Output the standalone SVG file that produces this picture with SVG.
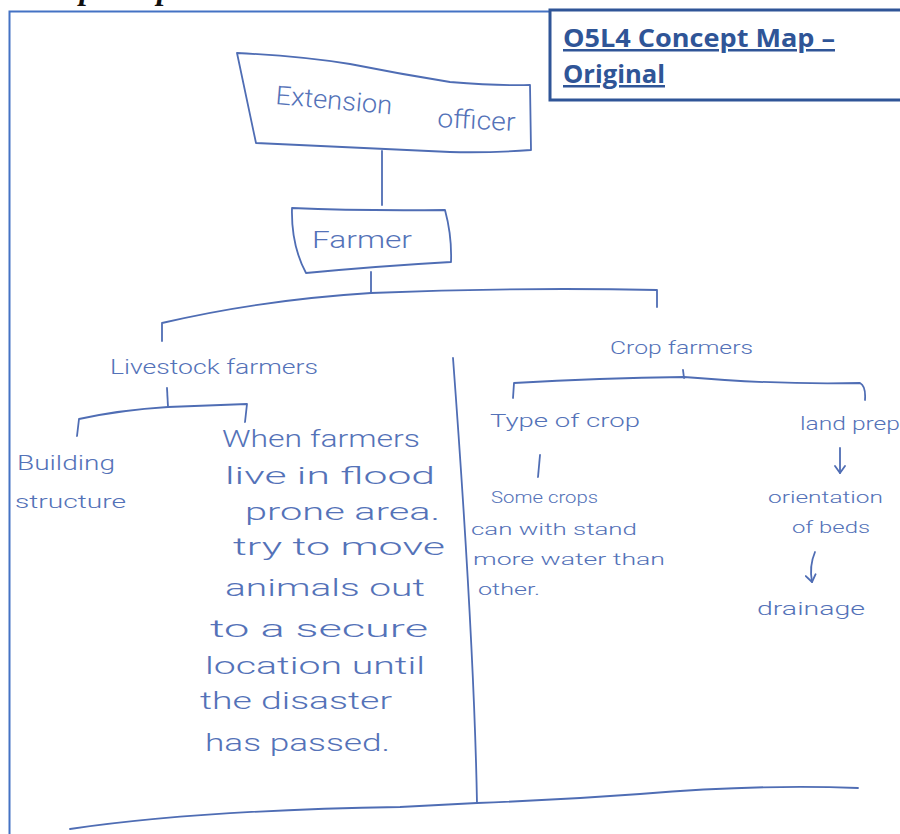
<svg xmlns="http://www.w3.org/2000/svg" width="900" height="834" viewBox="0 0 900 834">
<style>
.hw{font-family:"Roboto","Liberation Sans","DejaVu Sans",sans-serif;font-weight:300;fill:#5472b8;}
.ln{fill:none;stroke:#4f6db4;stroke-width:1.8;stroke-linecap:round;stroke-linejoin:round;}
.title{font-family:"Open Sans","Liberation Sans",sans-serif;font-weight:bold;fill:#2f5597;text-decoration:underline;}
</style>
<defs>
<marker id="hand-arrow" viewBox="0 0 12 12" refX="11" refY="6" markerWidth="12" markerHeight="12" markerUnits="userSpaceOnUse" orient="auto">
<path d="M4,1 L11,6 L4,11" fill="none" stroke="#4f6db4" stroke-width="1.8" stroke-linecap="round" stroke-linejoin="round"/>
</marker>
</defs>
<rect width="900" height="834" fill="#ffffff"/>
<!-- cut-off heading -->
<text x="-4" y="-1" font-family="Liberation Serif,serif" font-weight="bold" font-style="italic" font-size="32" fill="#111">Concept Map</text>
<!-- outer frame -->
<path d="M9.5,900 L9.5,11.5 L905,11.5" fill="none" stroke="#4472c4" stroke-width="2"/>
<!-- title box -->
<g id="title">
<rect x="550" y="10" width="360" height="90" fill="#ffffff" stroke="#2f5597" stroke-width="3"/>
<text class="title" x="563" y="47" font-size="25" textLength="272" lengthAdjust="spacingAndGlyphs">O5L4 Concept Map –</text>
<text class="title" x="563" y="83" font-size="25" textLength="102" lengthAdjust="spacingAndGlyphs">Original</text>
</g>
<!-- connectors -->
<g id="connectors">
<path class="ln" d="M382,151 L382,205"/>
<path class="ln" d="M371,272 L371,293"/>
<path class="ln" d="M162,341 L162,323 Q260,300 371,293 Q520,287 657,290 L657,307"/>
<path class="ln" d="M167,388 L168,407"/>
<path class="ln" d="M77,436 L79,419 Q120,410 168,407 L247,404 L245,422"/>
<path class="ln" d="M683,370 L684,378"/>
<path class="ln" d="M513,398 L514,383 Q600,378 684,377 Q780,385 860,383 Q866,386 865,400"/>
<path class="ln" d="M540,455 L538,477"/>
<path class="ln" d="M840,448 L840,473" marker-end="url(#hand-arrow)"/>
<path class="ln" d="M815,552 Q809,566 812,582" marker-end="url(#hand-arrow)"/>
</g>
<!-- divider and bottom line -->
<path class="ln" d="M453,358 Q474,640 477,803"/>
<path class="ln" d="M70,829 Q200,810 400,807 L477,803 Q560,800 640,794 Q760,784 858,788"/>
<g id="extension-officer">
<path class="ln" d="M237,53 Q300,56 350,64 Q400,74 450,82 Q500,86 530,85 L531,150 Q490,153 450,152 L256,143 Z"/>
<text class="hw" x="275" y="104" font-size="26" textLength="117" lengthAdjust="spacingAndGlyphs" transform="rotate(5 275 104)">Extension</text>
<text class="hw" x="437" y="127" font-size="26" textLength="78" lengthAdjust="spacingAndGlyphs" transform="rotate(3 437 127)">officer</text>
</g>
<g id="farmer">
<path class="ln" d="M292,208 Q360,211 445,210 Q452,236 451,262 Q380,266 306,273 Q291,245 292,208 Z"/>
<text class="hw" x="312" y="248" font-size="24" textLength="100" lengthAdjust="spacingAndGlyphs">Farmer</text>
</g>
<g id="livestock-farmers">
<text class="hw" x="110" y="374" font-size="20" textLength="208" lengthAdjust="spacingAndGlyphs">Livestock  farmers</text>
</g>
<g id="building-structure">
<text class="hw" x="17" y="470" font-size="20" textLength="98" lengthAdjust="spacingAndGlyphs">Building</text>
<text class="hw" x="15" y="508" font-size="19" textLength="111" lengthAdjust="spacingAndGlyphs">structure</text>
</g>
<g id="flood-text">
<text class="hw" x="222" y="447" font-size="24" textLength="198" lengthAdjust="spacingAndGlyphs">When  farmers</text>
<text class="hw" x="225" y="484" font-size="24" textLength="210" lengthAdjust="spacingAndGlyphs">live  in  flood</text>
<text class="hw" x="245" y="520" font-size="24" textLength="195" lengthAdjust="spacingAndGlyphs">prone  area.</text>
<text class="hw" x="233" y="555" font-size="24" textLength="212" lengthAdjust="spacingAndGlyphs">try  to  move</text>
<text class="hw" x="225" y="596" font-size="24" textLength="200" lengthAdjust="spacingAndGlyphs">animals  out</text>
<text class="hw" x="210" y="637" font-size="24" textLength="218" lengthAdjust="spacingAndGlyphs">to  a  secure</text>
<text class="hw" x="205" y="674" font-size="24" textLength="220" lengthAdjust="spacingAndGlyphs">location  until</text>
<text class="hw" x="200" y="709" font-size="24" textLength="192" lengthAdjust="spacingAndGlyphs">the  disaster</text>
<text class="hw" x="205" y="751" font-size="24" textLength="185" lengthAdjust="spacingAndGlyphs">has  passed.</text>
</g>
<g id="crop-farmers">
<text class="hw" x="610" y="354" font-size="19" textLength="143" lengthAdjust="spacingAndGlyphs">Crop  farmers</text>
</g>
<g id="type-of-crop">
<text class="hw" x="490" y="427" font-size="19" textLength="150" lengthAdjust="spacingAndGlyphs">Type  of  crop</text>
</g>
<g id="some-crops">
<text class="hw" x="491" y="503" font-size="17" textLength="107" lengthAdjust="spacingAndGlyphs">Some crops</text>
<text class="hw" x="471" y="535" font-size="17" textLength="166" lengthAdjust="spacingAndGlyphs">can with stand</text>
<text class="hw" x="473" y="565" font-size="17" textLength="192" lengthAdjust="spacingAndGlyphs">more  water than</text>
<text class="hw" x="478" y="595" font-size="17" textLength="62" lengthAdjust="spacingAndGlyphs">other.</text>
</g>
<g id="land-prep">
<text class="hw" x="800" y="430" font-size="19" textLength="100" lengthAdjust="spacingAndGlyphs">land prep</text>
</g>
<g id="orientation-of-beds">
<text class="hw" x="768" y="503" font-size="17" textLength="115" lengthAdjust="spacingAndGlyphs">orientation</text>
<text class="hw" x="792" y="533" font-size="17" textLength="78" lengthAdjust="spacingAndGlyphs">of beds</text>
</g>
<g id="drainage">
<text class="hw" x="757" y="615" font-size="19" textLength="108" lengthAdjust="spacingAndGlyphs">drainage</text>
</g>
</svg>
